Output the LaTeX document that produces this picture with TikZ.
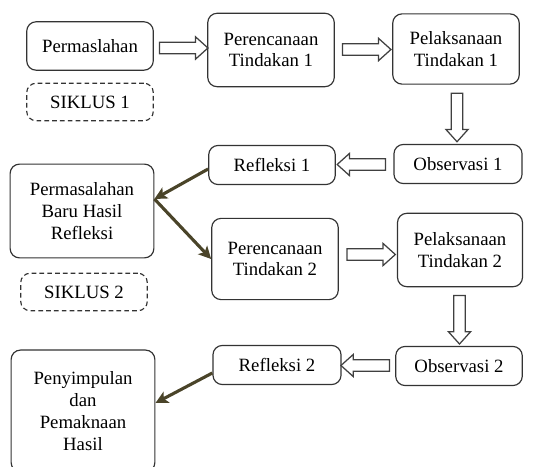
\documentclass[tikz,border=0pt]{standalone}
\usepackage{fontspec}
\setmainfont{Liberation Serif}
\usetikzlibrary{arrows.meta,arrows}
\usetikzlibrary{positioning,calc,shapes.arrows}

\definecolor{olive}{HTML}{4A4429}

\begin{document}
\begin{tikzpicture}[x=0.64pt,y=-0.64pt,font=\rmfamily\fontsize{12}{14}\selectfont]

        \useasboundingbox (0,0) rectangle (547,467);

        \begin{scope}[every node/.style={draw=black!80,line width=0.75pt,rounded corners=6pt,
            align=center,inner sep=1pt,minimum width=81pt}]
            \node[minimum height=31pt] (perm) at (90,46) {Permaslahan};
            \node[minimum height=47pt] (perA) at (271,50) {Perencanaan\\Tindakan 1};
            \node[minimum height=45pt] (pelA) at (456,49) {Pelaksanaan\\Tindakan 1};
            \node[minimum height=25pt,minimum width=82pt] (obsA) at (458,164) {Observasi 1};
            \node[minimum height=25pt] (refA) at (272,165) {Refleksi 1};
            \node[minimum height=60pt,minimum width=92pt] (baru) at (82,211) {Permasalahan\\Baru Hasil\\Refleksi};
            \node[minimum height=52pt] (perB) at (275,259) {Perencanaan\\Tindakan 2};
            \node[minimum height=47pt,minimum width=80pt] (pelB) at (460,250) {Pelaksanaan\\Tindakan 2};
            \node[minimum height=25pt,minimum width=81pt] (obsB) at (459,366) {Observasi 2};
            \node[minimum height=25pt,minimum width=82pt] (refB) at (277,365) {Refleksi 2};
            \node[minimum height=78pt,minimum width=92pt] (simpul) at (83,411) {Penyimpulan\\dan\\Pemaknaan\\Hasil};
        \end{scope}

        \begin{scope}[every node/.style={draw=black!80,line width=0.75pt,rounded corners=6pt,
            dash pattern=on 3pt off 2pt,minimum width=81pt,minimum height=24pt}]
            \node (siklusA) at (90,102) {SIKLUS 1};
            \node (siklusB) at (84,292) {SIKLUS 2};
        \end{scope}

        % hollow block arrows between the steps
        \begin{scope}[every node/.style={single arrow,draw=black!75,line width=0.8pt,
            minimum height=31pt,minimum width=13.4pt,inner xsep=0pt,inner ysep=3.3pt,
            single arrow head extend=3.4pt,single arrow tip angle=84}]
            \node (arA) at ($(perm.east)!0.5!(perA.west)$) {};
            \node (arB) at ($(perA.east)!0.5!(pelA.west)$) {};
            \node[rotate=-90] (arC) at ($(pelA.south)!0.5!(obsA.north)$) {};
            \node[rotate=180] (arD) at ($(obsA.west)!0.5!(refA.east)$) {};
            \node (arE) at ($(perB.east)!0.5!(pelB.west)$) {};
            \node[rotate=-90] (arF) at ($(pelB.south)!0.5!(obsB.north)$) {};
            \node[rotate=180] (arG) at ($(obsB.west)!0.5!(refB.east)$) {};
        \end{scope}

        \coordinate (joint) at ($(baru.east)+(0,-12)$);

        \begin{scope}[>={Stealth[length=8pt,width=8pt,inset=2pt]},
            draw=olive,line width=2pt]
            \draw [->,olive] ($(refA.west)+(0,4)$) -- (joint);
            \draw [->,olive] (joint) -- (perB.west);
            \draw [->,olive] ($(refB.west)+(0,8)$) -- ($(simpul.east)+(0,-8)$);
        \end{scope}
    \end{tikzpicture}
\end{document}
